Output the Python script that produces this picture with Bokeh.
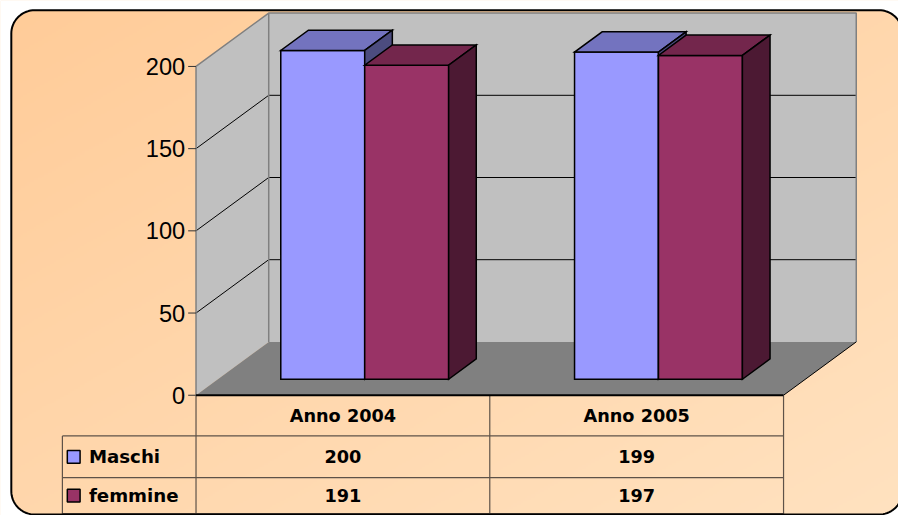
import numpy as np
from bokeh.plotting import figure
from bokeh.models import Range1d, ColumnDataSource
from bokeh.core.properties import value
from bokeh.embed import file_html
from bokeh.resources import INLINE

# ---------------- data ----------------
categories = ["Anno 2004", "Anno 2005"]
series_names = ["Maschi", "femmine"]
maschi = [200, 199]
femmine = [191, 197]
series_values = [maschi, femmine]
y_ticks = [0, 50, 100, 150, 200]
y_max = 200

front_colors = ["#9999FF", "#993366"]
top_colors = ["#7373BF", "#73264C"]
side_colors = ["#4C4C7F", "#4C1933"]

# ---------------- layout ----------------
W, H = 898, 515              # figure size (fits the window with the 8px margin)
REF_W, REF_H = 914.0, 531.0  # design canvas the layout below is measured in
FS = W / REF_W               # font scale
ORIGIN_X, ORIGIN_Y = 199.0, 407.0
PX_CAT = 299.0
PX_VAL = 1.695
DX = 74.0 / PX_CAT
DV = 55.0 / PX_VAL
BAR_W = 2.0 / 7.0
D0, D1 = 0.30, 0.68


def ux(px):
    return (px - ORIGIN_X) / PX_CAT


def uv(py):
    return (ORIGIN_Y - py) / PX_VAL


def P(x, v, d):
    return x + d * DX, v + d * DV


def fpx(s):
    return "%.1fpx" % (s * FS)


p = figure(width=W, height=H, output_backend="svg", toolbar_location=None,
           x_range=Range1d(ux(0), ux(REF_W)),
           y_range=Range1d(uv(REF_H), uv(0)),
           x_axis_location=None, y_axis_location=None, min_border=0)
p.grid.visible = False
p.outline_line_color = None
p.background_fill_color = "white"
p.border_fill_color = "white"

# ---------- gradient background ----------
step = 2
nx, ny = int(REF_W // step) + 1, int(REF_H // step) + 1
gx = (np.arange(nx) + 0.5) * step
gy = REF_H - (np.arange(ny) + 0.5) * step
GX, GY = np.meshgrid(gx, gy)
t = np.clip(((GX - 11) / 905 + (GY - 10) / 521) / 2, 0, 1)
c0 = np.array([255, 204, 153])
c1 = np.array([255, 226, 192])
img = np.empty((ny, nx), dtype=np.uint32)
view = img.view(dtype=np.uint8).reshape((ny, nx, 4))
for k in range(3):
    view[:, :, k] = (c0[k] + (c1[k] - c0[k]) * t).astype(np.uint8)
view[:, :, 3] = 255
p.image_rgba(image=[img], x=ux(0), y=uv(ny * step),
             dw=nx * step / PX_CAT, dh=ny * step / PX_VAL)


def rounded_rect(x0, y0, x1, y1, r, n=18):
    xs, ys = [], []
    for cx, cy, a0 in [(x1 - r, y0 + r, -90), (x1 - r, y1 - r, 0),
                       (x0 + r, y1 - r, 90), (x0 + r, y0 + r, 180)]:
        for a in np.linspace(a0, a0 + 90, n):
            xs.append(ux(cx + r * np.cos(np.radians(a))))
            ys.append(uv(cy + r * np.sin(np.radians(a))))
    return xs, ys


rx, ry = rounded_rect(11, 10, 918, 530, 24)
ox = [ux(-10), ux(940), ux(940), ux(-10)]
oy = [uv(-10), uv(-10), uv(550), uv(550)]
p.multi_polygons(xs=[[[ox, rx]]], ys=[[[oy, ry]]], fill_color="white", line_color=None)

n = len(categories)


def poly(pts):
    return [q[0] for q in pts], [q[1] for q in pts]


# ---------- walls & floor ----------
bw = poly([P(0, 0, 1), P(n, 0, 1), P(n, y_max, 1), P(0, y_max, 1)])
sw = poly([P(0, 0, 0), P(0, 0, 1), P(0, y_max, 1), P(0, y_max, 0)])
fl = poly([P(0, 0, 0), P(n, 0, 0), P(n, 0, 1), P(0, 0, 1)])
p.patches(xs=[bw[0], sw[0]], ys=[bw[1], sw[1]], fill_color="#C0C0C0", line_color=None)
p.patch(fl[0], fl[1], fill_color="#808080", line_color=None)

# gridlines
gxs, gys = [], []
for v in y_ticks[1:-1]:
    xs_, ys_ = poly([P(0, v, 0), P(0, v, 1), P(n, v, 1)])
    gxs.append(xs_)
    gys.append(ys_)
p.multi_line(gxs, gys, line_color="black", line_width=1)

# wall edges
exs, eys = [], []
for seg in ([P(0, y_max, 0), P(0, y_max, 1), P(n, y_max, 1), P(n, 0, 1)],
            [P(0, 0, 1), P(0, y_max, 1)],
            [P(0, 0, 0), P(0, y_max, 0)]):
    a, b = poly(seg)
    exs.append(a)
    eys.append(b)
p.multi_line(exs, eys, line_color="#808080", line_width=1.5)
fr = poly([P(n, 0, 0), P(n, 0, 1)])
p.line(fr[0], fr[1], line_color="black", line_width=1)

# tick marks and labels
p.segment(x0=[ux(191)] * len(y_ticks), y0=y_ticks, x1=[0] * len(y_ticks), y1=y_ticks,
          line_color="#333333", line_width=1)
p.text(x=[ux(188)] * len(y_ticks), y=y_ticks, text=[str(v) for v in y_ticks],
       text_align="right", text_baseline="middle", text_font=value("Liberation Sans"),
       text_font_size=fpx(24), text_color="black")

# ---------- bars ----------
fxs, fys, fcol = [], [], []
for i in range(n):
    for j, vals in enumerate(series_values):
        h = vals[i]
        xl = i + 0.5 - BAR_W + j * BAR_W
        xr = xl + BAR_W
        faces = [
            ([P(xl, 0, D0), P(xr, 0, D0), P(xr, h, D0), P(xl, h, D0)], front_colors[j]),
            ([P(xl, h, D0), P(xr, h, D0), P(xr, h, D1), P(xl, h, D1)], top_colors[j]),
            ([P(xr, 0, D0), P(xr, 0, D1), P(xr, h, D1), P(xr, h, D0)], side_colors[j]),
        ]
        for pts, col in faces:
            a, b = poly(pts)
            fxs.append(a)
            fys.append(b)
            fcol.append(col)
p.patches(xs="xs", ys="ys", fill_color="c", line_color="black", line_width=1.5,
          line_join="miter", source=ColumnDataSource(dict(xs=fxs, ys=fys, c=fcol)))

# ---------- data table ----------
TBL_LEFT = 63
ROW_Y = [407, 449, 492, 529]
tl_col = "#5e5248"
hx0, hy0, hx1, hy1 = [], [], [], []
for r in ROW_Y[1:]:
    hx0.append(ux(TBL_LEFT))
    hx1.append(float(n))
    hy0.append(uv(r))
    hy1.append(uv(r))
vx0, vy0, vx1, vy1 = [ux(TBL_LEFT)], [uv(ROW_Y[1])], [ux(TBL_LEFT)], [uv(540)]
for k in range(n + 1):
    vx0.append(float(k))
    vx1.append(float(k))
    vy0.append(0.0)
    vy1.append(uv(540))
p.segment(x0=hx0 + vx0, y0=hy0 + vy0, x1=hx1 + vx1, y1=hy1 + vy1,
          line_color=tl_col, line_width=1.2)
p.segment(x0=[0.0], y0=[0.0], x1=[float(n)], y1=[0.0], line_color="black", line_width=2.2)

tfont = value("DejaVu Sans")
p.text(x=[i + 0.5 for i in range(n)], y=[uv((ROW_Y[0] + ROW_Y[1]) / 2)] * n, text=categories,
       text_align="center", text_baseline="middle", text_font=tfont,
       text_font_style="bold", text_font_size=fpx(18), text_color="black")
row_c = [uv((ROW_Y[1] + ROW_Y[2]) / 2), uv((ROW_Y[2] + ROW_Y[3]) / 2)]
for j, vals in enumerate(series_values):
    p.text(x=[i + 0.5 for i in range(n)], y=[row_c[j]] * n, text=[str(v) for v in vals],
           text_align="center", text_baseline="middle", text_font=tfont,
           text_font_style="bold", text_font_size=fpx(18), text_color="black")

# legend keys in table
p.quad(left=[ux(68)] * 2, right=[ux(81)] * 2,
       top=[rc + 6.5 / PX_VAL for rc in row_c], bottom=[rc - 6.5 / PX_VAL for rc in row_c],
       fill_color=front_colors, line_color="black", line_width=1.5)
p.text(x=[ux(90)] * 2, y=row_c, text=series_names, text_align="left",
       text_baseline="middle", text_font=tfont, text_font_style="bold",
       text_font_size=fpx(18.5), text_color="black")

# border
p.patch(rx, ry, fill_color=None, line_color="black", line_width=2)

open("out.html", "w").write(file_html(p, INLINE))
